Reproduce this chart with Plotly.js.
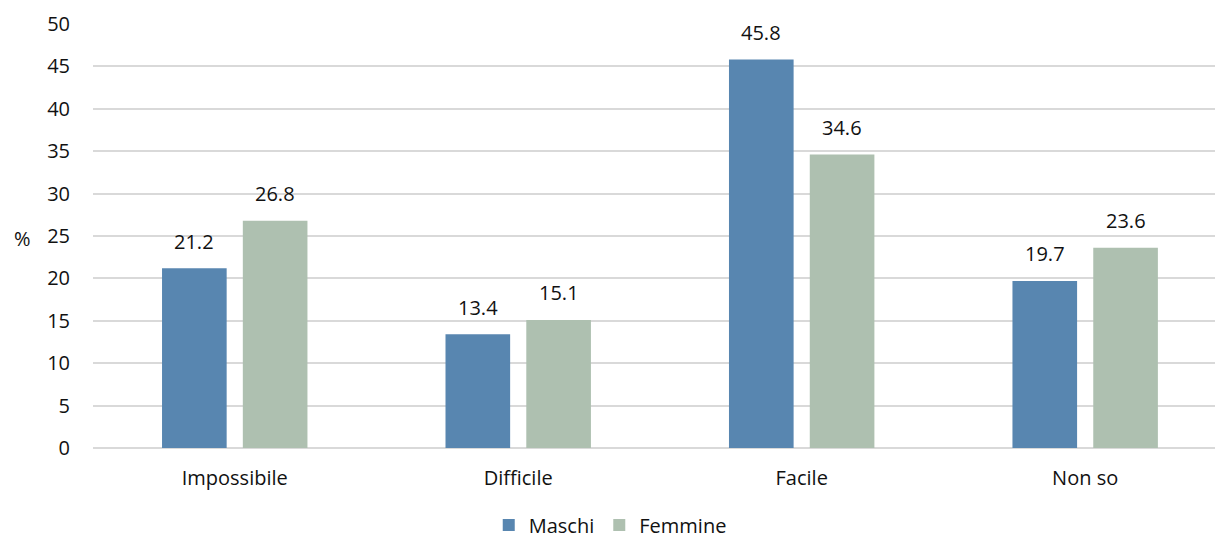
<!DOCTYPE html>
<html>
<head>
<meta charset="utf-8">
<script src="https://cdn.plot.ly/plotly-3.0.1.min.js"></script>
<style>html,body{margin:0;padding:0;background:#fff;}#chart{width:1215px;height:540px;}</style>
</head>
<body>
<div id="chart"></div>
<script>
const categories = ["Impossibile", "Difficile", "Facile", "Non so"];
const maschi = [21.2, 13.4, 45.8, 19.7];
const femmine = [26.8, 15.1, 34.6, 23.6];
const seriesNames = ["Maschi", "Femmine"];
const yTicks = [0, 5, 10, 15, 20, 25, 30, 35, 40, 45, 50];

const font = {family: "'Open Sans', sans-serif", size: 20, color: "#111"};

const mk = (name, vals, color) => ({
  type: "bar", name: name, x: categories, y: vals,
  marker: {color: color, line: {width: 0}}, hoverinfo: "skip"
});

const data = [mk(seriesNames[0], maschi, "#5886b0"), mk(seriesNames[1], femmine, "#aec0b0")];

const annotations = [];
[[maschi, -40.5], [femmine, 40.5]].forEach(([vals, dx]) => {
  vals.forEach((v, i) => annotations.push({
    x: categories[i], y: v, xref: "x", yref: "y", text: v.toFixed(1),
    showarrow: false, xshift: dx, yshift: 27, xanchor: "center", yanchor: "middle", font: font
  }));
});
annotations.push({text: "%", xref: "paper", yref: "paper", x: -0.063, y: 0.495,
                  xanchor: "center", yanchor: "middle", showarrow: false, font: font});

const layout = {
  width: 1215, height: 540,
  margin: {l: 93, r: 0, t: 24, b: 92},
  paper_bgcolor: "#fff", plot_bgcolor: "#fff",
  font: font,
  barmode: "group", bargap: 0.43, bargroupgap: 0.2,
  xaxis: {range: [-0.5, 3.458], showgrid: false, zeroline: false, showline: false,
          ticks: "", tickfont: font, automargin: false, ticklabelstandoff: 16},
  yaxis: {range: [0, 50], tickvals: yTicks, showgrid: true, gridcolor: "#d9d9d9", gridwidth: 2,
          zeroline: true, zerolinecolor: "#d9d9d9", zerolinewidth: 2, showline: false,
          ticks: "", tickfont: font, ticklabelstandoff: 22, automargin: false},
  showlegend: true,
  legend: {orientation: "h", x: 0.461, xanchor: "center", xref: "paper",
           yref: "container", y: 0.028, yanchor: "middle",
           font: font, itemwidth: 30, traceorder: "normal", itemclick: false},
  annotations: annotations
};

Plotly.newPlot("chart", data, layout, {displayModeBar: false, staticPlot: true});
</script>
</body>
</html>
